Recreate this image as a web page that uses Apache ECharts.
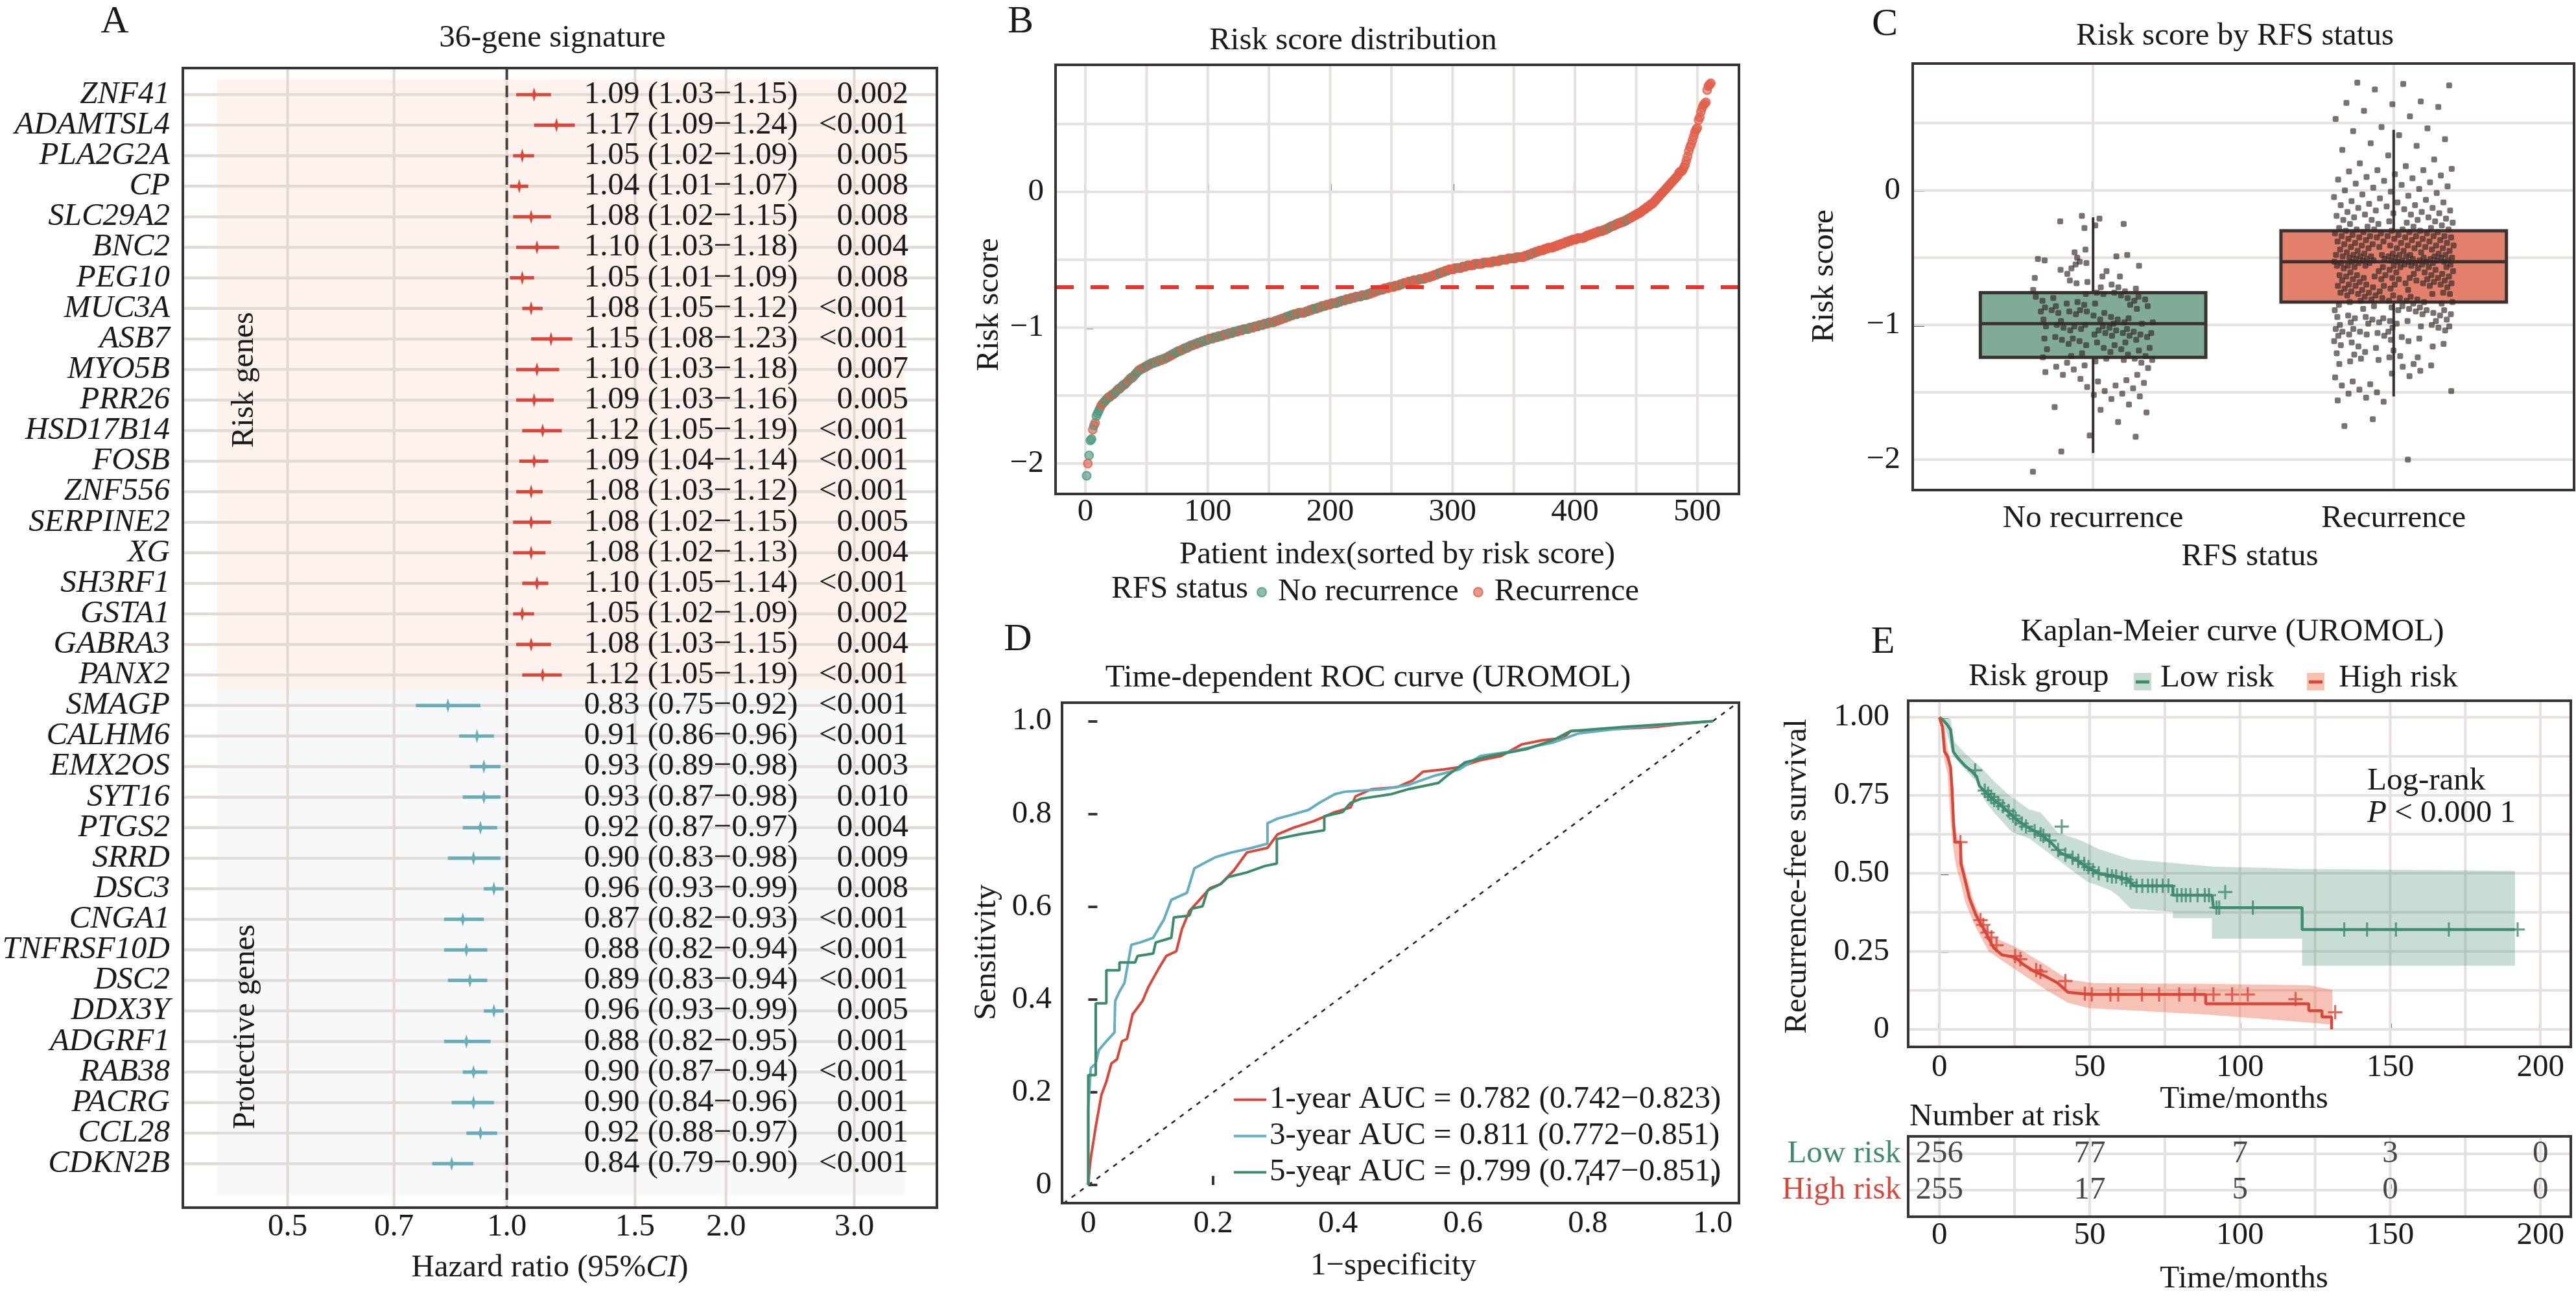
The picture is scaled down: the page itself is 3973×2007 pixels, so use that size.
<!DOCTYPE html>
<html><head><meta charset="utf-8">
<script src="https://cdn.jsdelivr.net/npm/echarts/dist/echarts.min.js"></script>
<style>html,body{margin:0;padding:0;background:#fff}#c{width:3973px;height:2007px}</style>
</head><body><div id="c"></div>
<script>
// ================= DATA =================
// Panel A : forest plot
const genes = ['ZNF41','ADAMTSL4','PLA2G2A','CP','SLC29A2','BNC2','PEG10','MUC3A','ASB7','MYO5B','PRR26','HSD17B14','FOSB','ZNF556','SERPINE2','XG','SH3RF1','GSTA1','GABRA3','PANX2',
  'SMAGP','CALHM6','EMX2OS','SYT16','PTGS2','SRRD','DSC3','CNGA1','TNFRSF10D','DSC2','DDX3Y','ADGRF1','RAB38','PACRG','CCL28','CDKN2B'];
const hr     = [1.09,1.17,1.05,1.04,1.08,1.10,1.05,1.08,1.15,1.10,1.09,1.12,1.09,1.08,1.08,1.08,1.10,1.05,1.08,1.12, 0.83,0.91,0.93,0.93,0.92,0.90,0.96,0.87,0.88,0.89,0.96,0.88,0.90,0.90,0.92,0.84];
const hrLow  = [1.03,1.09,1.02,1.01,1.02,1.03,1.01,1.05,1.08,1.03,1.03,1.05,1.04,1.03,1.02,1.02,1.05,1.02,1.03,1.05, 0.75,0.86,0.89,0.87,0.87,0.83,0.93,0.82,0.82,0.83,0.93,0.82,0.87,0.84,0.88,0.79];
const hrHigh = [1.15,1.24,1.09,1.07,1.15,1.18,1.09,1.12,1.23,1.18,1.16,1.19,1.14,1.12,1.15,1.13,1.14,1.09,1.15,1.19, 0.92,0.96,0.98,0.98,0.97,0.98,0.99,0.93,0.94,0.94,0.99,0.95,0.94,0.96,0.97,0.90];
const pValues = ['0.002','<0.001','0.005','0.008','0.008','0.004','0.008','<0.001','<0.001','0.007','0.005','<0.001','<0.001','<0.001','0.005','0.004','<0.001','0.002','0.004','<0.001',
  '<0.001','<0.001','0.003','0.010','0.004','0.009','0.008','<0.001','<0.001','<0.001','0.005','0.001','<0.001','0.001','0.001','<0.001'];
const nRiskGenes = 20;
const hrTicks = [0.5,0.7,1.0,1.5,2.0,3.0];

// Panels B / C : sorted risk scores and RFS status (1 = recurrence)
const riskScores = [
-2.09,-2.00,-1.94,-1.83,-1.82,-1.75,-1.72,-1.70,-1.65,-1.63,
-1.61,-1.59,-1.57,-1.56,-1.55,-1.54,-1.53,-1.52,-1.51,-1.51,
-1.50,-1.49,-1.49,-1.48,-1.47,-1.46,-1.45,-1.45,-1.44,-1.43,
-1.42,-1.42,-1.41,-1.40,-1.39,-1.38,-1.37,-1.37,-1.36,-1.35,
-1.34,-1.33,-1.32,-1.31,-1.31,-1.30,-1.30,-1.29,-1.29,-1.28,
-1.28,-1.27,-1.27,-1.26,-1.26,-1.26,-1.25,-1.25,-1.25,-1.24,
-1.24,-1.24,-1.23,-1.23,-1.23,-1.22,-1.22,-1.21,-1.21,-1.20,
-1.20,-1.19,-1.19,-1.18,-1.18,-1.17,-1.17,-1.17,-1.16,-1.16,
-1.15,-1.15,-1.15,-1.14,-1.14,-1.13,-1.13,-1.13,-1.12,-1.12,
-1.12,-1.11,-1.11,-1.11,-1.10,-1.10,-1.10,-1.09,-1.09,-1.09,
-1.08,-1.08,-1.08,-1.08,-1.07,-1.07,-1.07,-1.07,-1.06,-1.06,
-1.06,-1.06,-1.05,-1.05,-1.05,-1.05,-1.04,-1.04,-1.04,-1.04,
-1.03,-1.03,-1.03,-1.03,-1.02,-1.02,-1.02,-1.02,-1.01,-1.01,
-1.01,-1.01,-1.01,-1.00,-1.00,-1.00,-1.00,-0.99,-0.99,-0.99,
-0.99,-0.98,-0.98,-0.98,-0.98,-0.97,-0.97,-0.97,-0.97,-0.96,
-0.96,-0.96,-0.96,-0.96,-0.95,-0.95,-0.95,-0.94,-0.94,-0.94,
-0.93,-0.93,-0.93,-0.92,-0.92,-0.92,-0.91,-0.91,-0.91,-0.90,
-0.90,-0.90,-0.90,-0.89,-0.89,-0.89,-0.89,-0.89,-0.89,-0.88,
-0.88,-0.88,-0.87,-0.87,-0.87,-0.86,-0.86,-0.86,-0.86,-0.85,
-0.85,-0.85,-0.84,-0.84,-0.84,-0.84,-0.83,-0.83,-0.83,-0.83,
-0.82,-0.82,-0.82,-0.82,-0.82,-0.81,-0.81,-0.81,-0.80,-0.80,
-0.80,-0.80,-0.79,-0.79,-0.79,-0.79,-0.78,-0.78,-0.78,-0.78,
-0.77,-0.77,-0.77,-0.77,-0.77,-0.76,-0.76,-0.76,-0.76,-0.76,
-0.75,-0.75,-0.75,-0.74,-0.74,-0.74,-0.73,-0.73,-0.73,-0.72,
-0.72,-0.72,-0.72,-0.71,-0.71,-0.71,-0.71,-0.70,-0.70,-0.70,
-0.70,-0.70,-0.69,-0.69,-0.69,-0.69,-0.68,-0.68,-0.68,-0.67,
-0.67,-0.67,-0.67,-0.66,-0.66,-0.66,-0.66,-0.65,-0.65,-0.65,
-0.65,-0.65,-0.64,-0.64,-0.64,-0.64,-0.64,-0.63,-0.63,-0.63,
-0.63,-0.62,-0.62,-0.62,-0.61,-0.61,-0.61,-0.60,-0.60,-0.60,
-0.59,-0.59,-0.59,-0.58,-0.58,-0.58,-0.57,-0.57,-0.57,-0.57,
-0.57,-0.56,-0.56,-0.56,-0.56,-0.56,-0.56,-0.55,-0.55,-0.55,
-0.55,-0.54,-0.54,-0.54,-0.54,-0.54,-0.54,-0.53,-0.53,-0.53,
-0.53,-0.53,-0.53,-0.53,-0.52,-0.52,-0.52,-0.52,-0.52,-0.52,
-0.52,-0.52,-0.51,-0.51,-0.51,-0.51,-0.51,-0.51,-0.50,-0.50,
-0.50,-0.50,-0.50,-0.50,-0.49,-0.49,-0.49,-0.49,-0.49,-0.49,
-0.49,-0.48,-0.48,-0.48,-0.48,-0.48,-0.48,-0.48,-0.47,-0.47,
-0.47,-0.46,-0.46,-0.46,-0.45,-0.45,-0.45,-0.44,-0.44,-0.44,
-0.43,-0.43,-0.43,-0.43,-0.42,-0.42,-0.42,-0.41,-0.41,-0.41,
-0.41,-0.41,-0.40,-0.40,-0.40,-0.39,-0.39,-0.39,-0.38,-0.38,
-0.38,-0.37,-0.37,-0.37,-0.36,-0.36,-0.36,-0.35,-0.35,-0.35,
-0.35,-0.34,-0.34,-0.34,-0.34,-0.34,-0.34,-0.33,-0.33,-0.32,
-0.32,-0.32,-0.31,-0.31,-0.31,-0.30,-0.30,-0.30,-0.29,-0.29,
-0.29,-0.29,-0.28,-0.28,-0.28,-0.27,-0.27,-0.26,-0.26,-0.25,
-0.25,-0.25,-0.24,-0.24,-0.23,-0.23,-0.23,-0.22,-0.22,-0.22,
-0.21,-0.21,-0.20,-0.20,-0.19,-0.19,-0.18,-0.18,-0.17,-0.17,
-0.16,-0.16,-0.15,-0.15,-0.14,-0.13,-0.13,-0.12,-0.11,-0.11,
-0.10,-0.09,-0.09,-0.08,-0.07,-0.06,-0.05,-0.04,-0.03,-0.02,
-0.01,0.00,0.01,0.02,0.03,0.04,0.05,0.06,0.07,0.08,
0.09,0.10,0.11,0.12,0.14,0.15,0.15,0.16,0.18,0.20,
0.23,0.26,0.30,0.33,0.35,0.38,0.41,0.44,0.46,0.47,
0.53,0.55,0.59,0.62,0.64,0.65,0.66,0.75,0.78,0.79,
0.80];
const rfsStatus = [
'0100010100','0011010010','1101001010','0100110010','1001010110','0010100101','0100110010','1010010011','0100101001','1001010010',
'0110100101','0010110010','1001001101','0100101010','1101010110','0110101101','1011010010','0101101011','1010110100','0110101101',
'1101011010','0101101101','1011010110','1010110110','1101111011','1110111101','1011111011','1110110111','1101111110','0111101111',
'1111011101','1110111111','1011111011','1111101111','1101111110','1111011111','1110111101','1111111111','1111111111','1111111111',
'1111111111','1111111111','1110111101','0111011111','1011011111','1111111111','1111111111','1111111111','1111111111','1111111111',
'1111111111','1'].join('');
const riskCutoff = -0.70;
const rfsCategories = ['No recurrence','Recurrence'];
// [lower whisker, Q1, median, Q3, upper whisker]
const boxNoRecurrence = [-1.95,-1.24,-0.99,-0.76,-0.20];
const boxRecurrence   = [-1.53,-0.83,-0.53,-0.30,0.45];

// Panel D : time-dependent ROC curves [1-specificity, sensitivity]
const rocNames = ['1-year AUC = 0.782 (0.742\u22120.823)','3-year AUC = 0.811 (0.772\u22120.851)','5-year AUC = 0.799 (0.747\u22120.851)'];
const roc1 = [[0,0],[0.002,0.034],[0.004,0.058],[0.012,0.126],[0.021,0.194],[0.029,0.223],[0.037,0.262],[0.046,0.271],[0.054,0.31],[0.062,0.315],[0.071,0.368],[0.087,0.397],[0.096,0.426],[0.112,0.465],[0.125,0.494],[0.141,0.504],[0.150,0.552],[0.162,0.591],[0.175,0.61],[0.195,0.64],[0.212,0.649],[0.233,0.678],[0.254,0.717],[0.287,0.727],[0.303,0.756],[0.328,0.77],[0.362,0.785],[0.395,0.804],[0.42,0.814],[0.428,0.838],[0.453,0.853],[0.495,0.858],[0.519,0.872],[0.536,0.891],[0.569,0.896],[0.594,0.901],[0.628,0.916],[0.661,0.925],[0.694,0.95],[0.727,0.959],[0.761,0.964],[0.773,0.979],[0.844,0.983],[0.91,0.988],[0.943,0.993],[1,1]];
const roc3 = [[0,0],[0,0.165],[0.004,0.252],[0.012,0.262],[0.017,0.291],[0.029,0.31],[0.042,0.329],[0.043,0.397],[0.05,0.417],[0.058,0.436],[0.069,0.518],[0.083,0.523],[0.104,0.533],[0.112,0.552],[0.121,0.572],[0.133,0.615],[0.158,0.63],[0.17,0.683],[0.191,0.698],[0.204,0.707],[0.229,0.717],[0.262,0.727],[0.287,0.736],[0.287,0.78],[0.303,0.79],[0.328,0.799],[0.353,0.809],[0.37,0.824],[0.395,0.843],[0.411,0.848],[0.47,0.853],[0.511,0.862],[0.553,0.882],[0.594,0.896],[0.628,0.925],[0.677,0.935],[0.744,0.954],[0.786,0.974],[0.844,0.983],[0.91,0.991],[1,1]];
const roc5 = [[0,0],[0,0.237],[0.012,0.237],[0.012,0.392],[0.029,0.392],[0.029,0.463],[0.05,0.463],[0.05,0.48],[0.075,0.48],[0.079,0.494],[0.104,0.499],[0.108,0.523],[0.133,0.533],[0.137,0.577],[0.162,0.581],[0.166,0.596],[0.183,0.601],[0.191,0.635],[0.212,0.649],[0.224,0.664],[0.254,0.674],[0.283,0.688],[0.302,0.693],[0.302,0.746],[0.337,0.756],[0.378,0.765],[0.378,0.795],[0.407,0.804],[0.42,0.824],[0.437,0.833],[0.486,0.843],[0.511,0.853],[0.561,0.867],[0.574,0.882],[0.603,0.911],[0.644,0.925],[0.702,0.94],[0.744,0.959],[0.773,0.979],[0.86,0.988],[1,1]];
const rocTicks = [0,0.2,0.4,0.6,0.8,1.0];

// Panel E : Kaplan-Meier [months, survival]
const kmLow = [[0,1],[1.3,0.99],[2.7,0.975],[3.7,0.96],[4.6,0.89],[6.1,0.87],[8.5,0.845],[10.4,0.83],[12.4,0.81],[13.3,0.78],[15.3,0.76],[18.2,0.735],[22,0.705],[25.9,0.67],[29.8,0.645],[33.7,0.625],[37.5,0.595],[40.4,0.565],[45.3,0.545],[49.1,0.52],[53,0.5],[58.8,0.49],[62.7,0.48],[64.6,0.46],[77.7,0.46],[77.7,0.43],[90.7,0.43],[91.2,0.39],[120.7,0.39],[120.7,0.32],[191.5,0.32]];
const kmHigh = [[0,1],[1,0.97],[1.7,0.89],[2.7,0.875],[3.7,0.84],[4.2,0.77],[4.7,0.66],[5.2,0.60],[7.0,0.60],[7.2,0.53],[8,0.50],[9,0.46],[10,0.42],[12,0.37],[13.3,0.345],[15.3,0.314],[16.4,0.291],[18.1,0.261],[20.8,0.239],[25.2,0.231],[27.8,0.209],[31.3,0.187],[34.9,0.172],[39.3,0.149],[42.8,0.119],[49.8,0.112],[88.6,0.112],[88.6,0.082],[122.9,0.082],[122.9,0.06],[127.3,0.06],[127.3,0.04],[130.5,0.04],[130.5,0]];
const kmLowCensor = [[11.9,0.83],[15.1,0.765],[16.2,0.755],[17.2,0.745],[18.2,0.735],[19.6,0.725],[21.1,0.715],[23,0.7],[24.5,0.685],[25.4,0.675],[27.4,0.66],[28.8,0.65],[31.7,0.635],[33.7,0.625],[34.6,0.62],[36.6,0.605],[39.5,0.575],[40.7,0.65],[41.9,0.56],[44.3,0.55],[46.2,0.54],[48.2,0.53],[49.6,0.52],[51.1,0.51],[53,0.5],[55.9,0.495],[57.4,0.49],[58.8,0.49],[60.7,0.485],[62.2,0.48],[63.6,0.47],[65.6,0.46],[67.5,0.46],[69.4,0.46],[70.9,0.46],[72.3,0.46],[74.3,0.46],[76.2,0.46],[79.1,0.43],[80.6,0.43],[82,0.43],[83.5,0.43],[85.9,0.43],[88.3,0.43],[89.7,0.43],[92.2,0.39],[93.1,0.39],[95.1,0.44],[104.3,0.39],[134.7,0.32],[142.3,0.32],[151.9,0.32],[169.5,0.32],[192.4,0.32]];
const kmHighCensor = [[7.0,0.60],[13.7,0.35],[14.6,0.335],[16,0.31],[17.3,0.295],[19,0.27],[25.2,0.235],[26.9,0.225],[32.2,0.19],[33.6,0.185],[41.9,0.155],[48.4,0.115],[50.7,0.112],[56.9,0.112],[59.5,0.112],[67.4,0.112],[73.1,0.112],[79.8,0.112],[85,0.112],[91.2,0.112],[97.4,0.112],[102.6,0.112],[118.5,0.097],[131.7,0.055]];
const kmLowUpper = [[0,1],[3.7,0.995],[5.1,0.92],[8.5,0.885],[14.3,0.835],[18.2,0.795],[23,0.752],[29.8,0.705],[33.7,0.695],[39.5,0.63],[47.2,0.605],[53,0.578],[63.6,0.545],[78.1,0.533],[90.7,0.522],[120.7,0.514],[191.5,0.508]];
const kmLowLower = [[0,1],[1.7,0.972],[4.6,0.875],[8.5,0.833],[12.4,0.792],[15.3,0.73],[18.2,0.695],[24,0.633],[29.8,0.612],[37.5,0.557],[43.3,0.515],[49.1,0.474],[56.9,0.446],[59.8,0.425],[63.6,0.387],[77.7,0.377],[77.7,0.356],[90.7,0.356],[90.7,0.291],[120.7,0.291],[120.7,0.204],[191.5,0.204]];
const kmHighUpper = [[0,1],[1.7,0.972],[2.7,0.90],[3.7,0.86],[4.6,0.70],[5.6,0.63],[6.6,0.60],[7.5,0.55],[8.5,0.51],[10,0.46],[11.4,0.41],[12.9,0.375],[14.8,0.34],[18.1,0.295],[25.2,0.265],[34,0.215],[42.8,0.16],[51.6,0.148],[88.6,0.146],[122.9,0.142],[130.8,0.127]];
const kmHighLower = [[0,1],[0.8,0.97],[1.7,0.86],[2.7,0.82],[3.7,0.67],[4.6,0.58],[5.6,0.52],[7.1,0.47],[8.5,0.41],[10,0.375],[11.4,0.34],[13.3,0.305],[16.4,0.25],[21.7,0.215],[28.7,0.17],[35.7,0.125],[42.8,0.085],[49.8,0.068],[88.6,0.048],[122.9,0.022],[130.8,0.015]];
const kmTicksX = [0,50,100,150,200];
const kmTicksY = [0,0.25,0.5,0.75,1];
const riskTableTimes = [0,50,100,150,200];
const lowAtRisk  = [256,77,7,3,0];
const highAtRisk = [255,17,5,0,0];

// ================= STYLE =================
const FF = '"Liberation Serif","Times New Roman",serif';
const DARK = '#3b3331', TXT = '#1a1a1a', GRIDC = '#e6e0de';
const FS = 49;
const RED = '#d9473a', TEAL = '#6aacb8';
const B_GREEN = '#4e9a80', B_RED = '#e0604b';
const KM_GREEN = '#3f8b6e', KM_RED = '#d9463a';
const MINUS = '\u2212';
const fmtMinus = v => (v < 0 ? MINUS + Math.abs(v) : String(v));

const G = [
  {left:282, top:105, width:1163, height:1758},
  {left:1628, top:100, width:1054, height:662},
  {left:2950, top:98, width:1020, height:658},
  {left:1638, top:1084, width:1044, height:772},
  {left:2943, top:1081, width:1022, height:534},
  {left:2943, top:1753, width:1022, height:124}
];

function axis(gi, o) {
  return {
    gridIndex: gi, type: 'value', min: o.min, max: o.max, inverse: !!o.inverse,
    axisLine: {show: false}, splitLine: {show: false},
    axisTick: {show: true, inside: o.tickInside !== false, length: o.tickLen || 12, customValues: o.ticks,
      lineStyle: {color: DARK, width: 4}},
    axisLabel: {show: o.noLabel ? false : true, customValues: o.ticks, formatter: o.fmt, margin: o.margin, hideOverlap: false,
      fontSize: o.fs || FS, fontFamily: FF, color: o.color || TXT, fontStyle: o.italic ? 'italic' : 'normal',
      lineHeight: o.lh || FS, showMinLabel: true, showMaxLabel: true}
  };
}

function gridLines(gi, xs, ys, xr, yr, w) {
  const data = xs.map(v => [v, 0]).concat(ys.map(v => [v, 1]));
  return {
    type: 'custom', xAxisIndex: gi, yAxisIndex: gi, silent: true, z: 1, data,
    dimensions: ['v','k'], encode: {x: -1, y: -1},
    renderItem(params, api) {
      const v = api.value(0), k = api.value(1);
      const a = k === 0 ? api.coord([v, yr[0]]) : api.coord([xr[0], v]);
      const b = k === 0 ? api.coord([v, yr[1]]) : api.coord([xr[1], v]);
      return {type: 'line', shape: {x1: a[0], y1: a[1], x2: b[0], y2: b[1]}, style: {stroke: GRIDC, lineWidth: w || 4}};
    }
  };
}

function rectFrom(api, x0, y0, x1, y1) {
  const p = api.coord([x0, y0]), q = api.coord([x1, y1]);
  return {x: Math.min(p[0], q[0]), y: Math.min(p[1], q[1]), width: Math.abs(q[0] - p[0]), height: Math.abs(q[1] - p[1])};
}

// ---- Panel A ranges (log scale via ln) ----
const AX = [Math.log(0.359), Math.log(3.896)];
const AY = [-0.87, 36.44];
const hrTextX = 0.244, pTextX = 1.2695;

// ---- Panel B/C data build ----
const noStyle  = {color: 'rgba(78,154,128,0.82)', borderColor: B_GREEN, borderWidth: 2};
const recStyle = {color: 'rgba(224,96,75,0.82)', borderColor: B_RED, borderWidth: 2};
const bPoints = [], cNo = [], cRec = [];
riskScores.forEach((v, i) => {
  const rec = rfsStatus[i] === '1';
  bPoints.push({value: [i + 1, v], itemStyle: rec ? recStyle : noStyle});
  const jit = ((i * 0.6180339887) % 1) * 0.4 - 0.2;
  if (rec) cRec.push([2 + jit, v]); else cNo.push([1 + jit, v]);
});

const crossPath = 'path://M-1.6,-11H1.6V-1.6H11V1.6H1.6V11H-1.6V1.6H-11V-1.6H-1.6Z';

function gtext(text, x, y, o) {
  o = o || {};
  return {type: 'text', x, y, rotation: o.rot || 0, z: 100, silent: true,
    style: {text, fill: o.color || TXT, fontSize: o.size || FS, fontFamily: FF,
      fontStyle: o.italic ? 'italic' : 'normal', align: o.align || 'center', verticalAlign: 'middle', rich: o.rich}};
}
const italicRich = {i: {fontStyle: 'italic', fontSize: FS, fontFamily: FF, fill: TXT}};

const graphics = [];
G.forEach(g => graphics.push({type: 'rect', z: 100, silent: true, shape: {x: g.left, y: g.top, width: g.width, height: g.height},
  style: {fill: 'none', stroke: DARK, lineWidth: 4}}));
graphics.push(
  gtext('A', 177, 34, {size: 60}),
  gtext('36-gene signature', 852, 59),
  gtext('Hazard ratio (95%{i|CI})', 848, 1956, {rich: italicRich}),
  gtext('Risk genes', 377, 586, {rot: Math.PI / 2, size: 48}),
  gtext('Protective genes', 379, 1584, {rot: Math.PI / 2, size: 48}),
  gtext('B', 1574, 34, {size: 60}),
  gtext('Risk score distribution', 2087, 63),
  gtext('Risk score', 1526, 470, {rot: Math.PI / 2}),
  gtext('Patient index(sorted by risk score)', 2155, 856),
  gtext('RFS status', 1714, 909, {align: 'left'}),
  gtext('C', 2907, 38, {size: 60}),
  gtext('Risk score by RFS status', 3447, 56),
  gtext('Risk score', 2814, 426, {rot: Math.PI / 2}),
  gtext('RFS status', 3470, 859),
  gtext('D', 1570, 987, {size: 60}),
  gtext('Time-dependent ROC curve (UROMOL)', 2110, 1046),
  gtext('Sensitivity', 1522, 1469, {rot: Math.PI / 2}),
  gtext('1' + MINUS + 'specificity', 2149, 1953),
  gtext('E', 2904, 991, {size: 60}),
  gtext('Kaplan-Meier curve (UROMOL)', 3443, 975),
  gtext('Risk group', 3036, 1044, {align: 'left'}),
  {type: 'rect', z: 100, silent: true, shape: {x: 3291, y: 1038, width: 27, height: 27}, style: {fill: '#c6dccf'}},
  {type: 'line', z: 101, silent: true, shape: {x1: 3294, y1: 1052, x2: 3315, y2: 1052}, style: {stroke: KM_GREEN, lineWidth: 5}},
  gtext('Low risk', 3332, 1046, {align: 'left'}),
  {type: 'rect', z: 100, silent: true, shape: {x: 3558, y: 1038, width: 27, height: 27}, style: {fill: '#f5c2b0'}},
  {type: 'line', z: 101, silent: true, shape: {x1: 3561, y1: 1052, x2: 3582, y2: 1052}, style: {stroke: KM_RED, lineWidth: 5}},
  gtext('High risk', 3607, 1046, {align: 'left'}),
  gtext('Recurrence-free survival', 2772, 1352, {rot: Math.PI / 2}),
  gtext('Time/months', 3461, 1696),
  gtext('Log-rank', 3651, 1205, {align: 'left'}),
  gtext('{i|P} < 0.000 1', 3651, 1255, {align: 'left', rich: italicRich}),
  gtext('Number at risk', 2945, 1723, {align: 'left'}),
  gtext('Time/months', 3461, 1973)
);

const option = {
  animation: false,
  backgroundColor: '#ffffff',
  textStyle: {fontFamily: FF},
  grid: G.map(g => Object.assign({show: false, containLabel: false, outerBoundsMode: 'none'}, g)),
  xAxis: [
    axis(0, {min: AX[0], max: AX[1], ticks: hrTicks.map(Math.log), fmt: v => Math.exp(v).toFixed(1), margin: 6, tickInside: false, tickLen: 6}),
    axis(1, {min: -24.4, max: 534, ticks: [0,100,200,300,400,500], fmt: v => String(v), margin: 4}),
    axis(2, {min: 0.4, max: 2.6, ticks: [1,2], fmt: v => rfsCategories[Math.round(v) - 1], margin: 20, tickLen: 14}),
    axis(3, {min: -0.042, max: 1.042, ticks: rocTicks, fmt: v => (v === 0 ? '0' : v.toFixed(1)), margin: 8, tickLen: 14}),
    axis(4, {min: -10.4, max: 210.1, ticks: kmTicksX, fmt: v => String(v), margin: 8, tickLen: 9}),
    axis(5, {min: -10.4, max: 210.1, ticks: riskTableTimes, fmt: v => String(v), margin: 5, tickLen: 9})
  ],
  yAxis: [
    axis(0, {min: AY[0], max: AY[1], inverse: true, ticks: genes.map((g, i) => i), fmt: v => '', margin: 20, tickInside: false, tickLen: 7, noLabel: true}),
    axis(1, {min: -2.224, max: 0.936, ticks: [-2,-1,0], fmt: fmtMinus, margin: 18}),
    axis(2, {min: -2.226, max: 0.942, ticks: [-2,-1,0], fmt: fmtMinus, margin: 19, tickLen: 18}),
    axis(3, {min: -0.039, max: 1.04, ticks: rocTicks, fmt: v => (v === 0 ? '0' : v.toFixed(1)), margin: 16, tickLen: 14}),
    axis(4, {min: -0.056, max: 1.053, ticks: kmTicksY, fmt: v => (v === 0 ? '0' : v.toFixed(2)), margin: 29, tickLen: 14}),
    axis(5, {min: -0.73, max: 1.48, ticks: [0,1], fmt: v => (Math.round(v) === 1 ? 'Low risk' : 'High risk'), margin: 11, tickLen: 7,
      color: v => (Math.round(v) === 1 ? KM_GREEN : KM_RED)})
  ],
  legend: [
    {data: ['No recurrence','Recurrence'], left: 1933, top: 884, orient: 'horizontal', icon: 'circle', itemWidth: 40, itemHeight: 14, itemGap: 22,
      symbolKeepAspect: true, textStyle: {fontSize: FS, fontFamily: FF, color: TXT, lineHeight: FS}, selectedMode: false},
    {data: rocNames, left: 1898, top: 1667, orient: 'vertical', icon: 'rect', itemWidth: 50, itemHeight: 4, itemGap: 7,
      textStyle: {fontSize: FS, fontFamily: FF, color: TXT, lineHeight: FS}, selectedMode: false}
  ],
  graphic: {elements: graphics},
  series: [
    // ---------- A background ----------
    {type: 'custom', xAxisIndex: 0, yAxisIndex: 0, silent: true, z: 1, data: [[0, 0]],
      renderItem(params, api) {
        const ch = [];
        ch.push({type: 'rect', shape: rectFrom(api, Math.log(0.400), -0.5, Math.log(3.52), 19.5), style: {fill: '#fdf2ee'}});
        ch.push({type: 'rect', shape: rectFrom(api, Math.log(0.400), 19.5, Math.log(3.52), 36.0), style: {fill: '#f6f8f9'}});
        hrTicks.forEach(t => {
          const a = api.coord([Math.log(t), AY[0]]), b = api.coord([Math.log(t), AY[1]]);
          ch.push({type: 'line', shape: {x1: a[0], y1: a[1], x2: b[0], y2: b[1]}, style: {stroke: '#e2d9d5', lineWidth: 4}});
        });
        genes.forEach((g, i) => {
          const a = api.coord([AX[0], i]), b = api.coord([AX[1], i]);
          ch.push({type: 'line', shape: {x1: a[0], y1: a[1], x2: b[0], y2: b[1]}, style: {stroke: '#e2dad7', lineWidth: 4.5}});
        });
        const a = api.coord([0, AY[0]]), b = api.coord([0, AY[1]]);
        ch.push({type: 'line', shape: {x1: a[0], y1: a[1], x2: b[0], y2: b[1]}, style: {stroke: '#4a4240', lineWidth: 4, lineDash: [18, 9]}});
        return {type: 'group', children: ch};
      }},
    // ---------- A forest ----------
    {type: 'custom', xAxisIndex: 0, yAxisIndex: 0, silent: true, z: 5, clip: false,
      dimensions: ['hr','row','lo','hi'], encode: {x: 0, y: 1},
      data: genes.map((g, i) => [Math.log(hr[i]), i, Math.log(hrLow[i]), Math.log(hrHigh[i])]),
      renderItem(params, api) {
        const i = api.value(1);
        const c = api.coord([api.value(0), i]), l = api.coord([api.value(2), i]), h = api.coord([api.value(3), i]);
        const col = i < nRiskGenes ? RED : TEAL;
        const tx = api.coord([hrTextX, i]), px = api.coord([pTextX, i]), gx = api.coord([AX[0], i]);
        const x = c[0], y = c[1];
        return {type: 'group', children: [
          {type: 'rect', shape: {x: l[0], y: y - 2.6, width: h[0] - l[0], height: 5.2}, style: {fill: col}},
          {type: 'polygon', shape: {points: [[x, y - 11], [x + 2.5, y - 2.5], [x + 7.5, y], [x + 2.5, y + 2.5], [x, y + 11], [x - 2.5, y + 2.5], [x - 7.5, y], [x - 2.5, y - 2.5]]}, style: {fill: col}},
          {type: 'text', x: tx[0], y: y, style: {text: hr[i].toFixed(2) + ' (' + hrLow[i].toFixed(2) + MINUS + hrHigh[i].toFixed(2) + ')',
            fontSize: FS, fontFamily: FF, fill: TXT, align: 'left', verticalAlign: 'middle'}},
          {type: 'text', x: px[0], y: y, style: {text: pValues[i], fontSize: FS, fontFamily: FF, fill: TXT, align: 'right', verticalAlign: 'middle'}},
          {type: 'text', x: gx[0] - 20, y: y, style: {text: genes[i], fontSize: FS, fontFamily: FF, fontStyle: 'italic', fill: TXT, align: 'right', verticalAlign: 'middle'}}
        ]};
      }},
    // ---------- B ----------
    gridLines(1, [0,50,100,150,200,250,300,350,400,450,500], [-2,-1.5,-1,-0.5,0,0.5], [-24.4, 534], [-2.224, 0.936]),
    {type: 'scatter', name: 'No recurrence', xAxisIndex: 1, yAxisIndex: 1, data: [], itemStyle: noStyle},
    {type: 'scatter', name: 'Recurrence', xAxisIndex: 1, yAxisIndex: 1, data: [], itemStyle: recStyle},
    {type: 'scatter', name: 'RFS points', xAxisIndex: 1, yAxisIndex: 1, data: bPoints, symbol: 'circle', symbolSize: 13, z: 3,
      markLine: {silent: true, symbol: ['none','none'], label: {show: false}, z: 4,
        lineStyle: {color: '#e8332b', width: 6, type: [28, 26]}, data: [{yAxis: riskCutoff}]}},
    // ---------- C ----------
    gridLines(2, [1,2], [-2,-1.5,-1,-0.5,0,0.5], [0.4, 2.6], [-2.226, 0.942]),
    {type: 'custom', xAxisIndex: 2, yAxisIndex: 2, silent: true, z: 3,
      dimensions: ['x','min','q1','med','q3','max'], encode: {x: 0, y: 3},
      data: [[1].concat(boxNoRecurrence), [2].concat(boxRecurrence)],
      renderItem(params, api) {
        const x = api.value(0), hw = 0.375;
        const pMin = api.coord([x, api.value(1)]), pMax = api.coord([x, api.value(5)]);
        const tl = api.coord([x - hw, api.value(4)]), br = api.coord([x + hw, api.value(2)]);
        const ml = api.coord([x - hw, api.value(3)]), mr = api.coord([x + hw, api.value(3)]);
        return {type: 'group', children: [
          {type: 'line', shape: {x1: pMin[0], y1: pMin[1], x2: pMax[0], y2: pMax[1]}, style: {stroke: DARK, lineWidth: 4}},
          {type: 'rect', shape: {x: tl[0], y: tl[1], width: br[0] - tl[0], height: br[1] - tl[1]},
            style: {fill: x === 1 ? '#80ab96' : '#e2806c', stroke: DARK, lineWidth: 5}},
          {type: 'line', shape: {x1: ml[0], y1: ml[1], x2: mr[0], y2: mr[1]}, style: {stroke: DARK, lineWidth: 5}}
        ]};
      }},
    {type: 'scatter', name: 'c-no', xAxisIndex: 2, yAxisIndex: 2, data: cNo, symbol: 'roundRect', symbolSize: 9, z: 4,
      itemStyle: {color: 'rgba(50,40,38,0.82)'}},
    {type: 'scatter', name: 'c-rec', xAxisIndex: 2, yAxisIndex: 2, data: cRec, symbol: 'roundRect', symbolSize: 9, z: 4,
      itemStyle: {color: 'rgba(50,40,38,0.82)'}},
    // ---------- D ----------
    {type: 'line', name: rocNames[0], xAxisIndex: 3, yAxisIndex: 3, data: roc1, symbol: 'none', z: 3,
      lineStyle: {color: '#d9483b', width: 4}, itemStyle: {color: '#d9483b'}},
    {type: 'line', name: rocNames[1], xAxisIndex: 3, yAxisIndex: 3, data: roc3, symbol: 'none', z: 3,
      lineStyle: {color: '#63afc0', width: 4}, itemStyle: {color: '#63afc0'}},
    {type: 'line', name: rocNames[2], xAxisIndex: 3, yAxisIndex: 3, data: roc5, symbol: 'none', z: 3,
      lineStyle: {color: '#3d8b6d', width: 4}, itemStyle: {color: '#3d8b6d'}},
    {type: 'line', name: 'ref', xAxisIndex: 3, yAxisIndex: 3, data: [[-0.04, -0.04], [1.04, 1.04]], symbol: 'none', z: 2, silent: true,
      lineStyle: {color: '#222', width: 2.5, type: [7, 9]}},
    // ---------- E ----------
    gridLines(4, [0,25,50,75,100,125,150,175,200], [0,0.125,0.25,0.375,0.5,0.625,0.75,0.875,1], [-10.4, 210.1], [-0.056, 1.053]),
    {type: 'custom', xAxisIndex: 4, yAxisIndex: 4, silent: true, z: 2, data: [[0, 0], [1, 0]],
      dimensions: ['g','v'], encode: {x: -1, y: -1},
      renderItem(params, api) {
        const g = api.value(0);
        const up = g === 0 ? kmLowUpper : kmHighUpper, lo = g === 0 ? kmLowLower : kmHighLower;
        const pts = up.map(p => api.coord(p)).concat(lo.slice().reverse().map(p => api.coord(p)));
        return {type: 'polygon', shape: {points: pts},
          style: {fill: g === 0 ? 'rgba(63,139,110,0.29)' : 'rgba(234,110,80,0.42)'}};
      }},
    {type: 'line', name: 'Low risk', xAxisIndex: 4, yAxisIndex: 4, data: kmLow, symbol: 'none', z: 3,
      lineStyle: {color: KM_GREEN, width: 4.5}},
    {type: 'line', name: 'High risk', xAxisIndex: 4, yAxisIndex: 4, data: kmHigh, symbol: 'none', z: 3,
      lineStyle: {color: KM_RED, width: 4.5}},
    {type: 'scatter', name: 'low-cens', xAxisIndex: 4, yAxisIndex: 4, data: kmLowCensor, symbol: crossPath, symbolSize: 22, z: 4,
      itemStyle: {color: KM_GREEN}},
    {type: 'scatter', name: 'high-cens', xAxisIndex: 4, yAxisIndex: 4, data: kmHighCensor, symbol: crossPath, symbolSize: 22, z: 4,
      itemStyle: {color: KM_RED}},
    // ---------- Risk table ----------
    gridLines(5, [0,25,50,75,100,125,150,175,200], [0,1], [-10.4, 210.1], [-0.73, 1.48]),
    {type: 'scatter', name: 'tab-low', xAxisIndex: 5, yAxisIndex: 5, symbolSize: 1, z: 4, itemStyle: {color: 'rgba(0,0,0,0)'},
      data: riskTableTimes.map((t, i) => [t, 1, lowAtRisk[i]]),
      label: {show: true, position: 'inside', formatter: p => String(p.value[2]), fontSize: FS, fontFamily: FF, color: TXT}},
    {type: 'scatter', name: 'tab-high', xAxisIndex: 5, yAxisIndex: 5, symbolSize: 1, z: 4, itemStyle: {color: 'rgba(0,0,0,0)'},
      data: riskTableTimes.map((t, i) => [t, 0, highAtRisk[i]]),
      label: {show: true, position: 'inside', formatter: p => String(p.value[2]), fontSize: FS, fontFamily: FF, color: TXT}}
  ]
};

const chart = echarts.init(document.getElementById('c'), null, {renderer: 'canvas', width: 3973, height: 2007});
chart.setOption(option);
</script>
</body></html>
